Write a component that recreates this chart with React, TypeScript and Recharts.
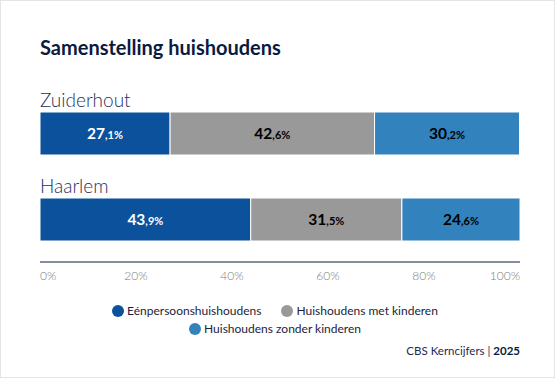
import React from "react";
import { BarChart, Bar, XAxis, YAxis, LabelList } from "recharts";

const categories = ["Zuiderhout", "Haarlem"];
const seriesNames = ["Eénpersoonshuishoudens", "Huishoudens met kinderen", "Huishoudens zonder kinderen"];
const eenpersoons = [27.1, 43.9];
const metKinderen = [42.6, 31.5];
const zonderKinderen = [30.2, 24.6];
const xTicks = [0, 20, 40, 60, 80, 100];

const colors = ["#0b519b", "#999999", "#3282be"];
const labelColors = ["#ffffff", "#000000", "#000000"];
const keys = ["a", "b", "c"];
const FONT = "Lato, 'Noto Sans', sans-serif";

const data = categories.map((name, i) => ({
  name,
  a: eenpersoons[i],
  b: metKinderen[i],
  c: zonderKinderen[i],
}));

const makeLabel = (fill: string) => (props: any) => {
  const { x, y, width, height, value } = props;
  const [intPart, decPart] = Number(value).toFixed(1).split(".");
  return (
    <text
      x={x + width / 2}
      y={y + height / 2 + 5}
      textAnchor="middle"
      fill={fill}
      fontFamily={FONT}
      fontWeight={700}
    >
      <tspan fontSize={15.5}>{intPart}</tspan>
      <tspan fontSize={11}>{"," + decPart + "%"}</tspan>
    </text>
  );
};

const CategoryLabel = (props: any) => {
  const { x, y, value } = props;
  return (
    <text x={x} y={y - 5} fontFamily={FONT} fontWeight={300} fontSize={19} fill="#27315a">
      {value}
    </text>
  );
};

const XTick = (props: any) => {
  const { x, y, payload, index } = props;
  const anchor = index === 0 ? "start" : index === xTicks.length - 1 ? "end" : "middle";
  return (
    <text x={x} y={y + 10} textAnchor={anchor} fontFamily={FONT} fontWeight={300} fontSize={12} fill="#7d7d7d">
      {payload.value + "%"}
    </text>
  );
};

export default function App() {
  return (
    <div
      style={{
        position: "absolute",
        left: 0,
        top: 0,
        width: 553,
        height: 376,
        border: "1px solid #e4e4e4",
        background: "#fff",
        fontFamily: FONT,
      }}
    >
      <div
        style={{
          position: "absolute",
          left: 39,
          top: 37,
          fontSize: 20,
          lineHeight: "18px",
          fontWeight: 700,
          color: "#0b1a3f",
        }}
      >
        Samenstelling huishoudens
      </div>
      <div style={{ position: "absolute", left: -1, top: -1 }}>
        <BarChart
          width={555}
          height={300}
          data={data}
          layout="vertical"
          margin={{ top: 90, right: 35, bottom: 8, left: 40 }}
          barCategoryGap={0}
        >
          <XAxis
            type="number"
            domain={[0, 100]}
            ticks={xTicks}
            axisLine={{ stroke: "#0b1a3f", strokeWidth: 1 }}
            tickLine={false}
            tick={<XTick />}
            interval={0}
            height={30}
          />
          <YAxis type="category" dataKey="name" hide />
          {keys.map((k, i) => (
            <Bar
              key={k}
              dataKey={k}
              name={seriesNames[i]}
              stackId="s"
              fill={colors[i]}
              stroke="#ffffff"
              strokeWidth={1}
              barSize={43}
              isAnimationActive={false}
            >
              <LabelList dataKey={k} content={makeLabel(labelColors[i])} />
              {i === 0 ? <LabelList dataKey="name" content={<CategoryLabel />} /> : null}
            </Bar>
          ))}
        </BarChart>
      </div>
      <div
        style={{
          position: "absolute",
          left: 109,
          top: 302,
          width: 330,
          display: "flex",
          flexWrap: "wrap",
          justifyContent: "center",
          columnGap: 20,
          rowGap: 3,
          fontSize: 12,
          color: "#1d1d3b",
        }}
      >
        {seriesNames.map((n, i) => (
          <div key={n} style={{ display: "flex", alignItems: "center", lineHeight: "15px" }}>
            <span
              style={{
                display: "inline-block",
                width: 12,
                height: 12,
                borderRadius: 6,
                background: colors[i],
                marginRight: 3,
              }}
            />
            {n}
          </div>
        ))}
      </div>
      <div
        style={{
          position: "absolute",
          right: 34,
          top: 343,
          fontSize: 11.5,
          lineHeight: "14px",
          color: "#1d2a55",
        }}
      >
        CBS Kerncijfers | <b style={{ color: "#0b1a3f" }}>2025</b>
      </div>
    </div>
  );
}
